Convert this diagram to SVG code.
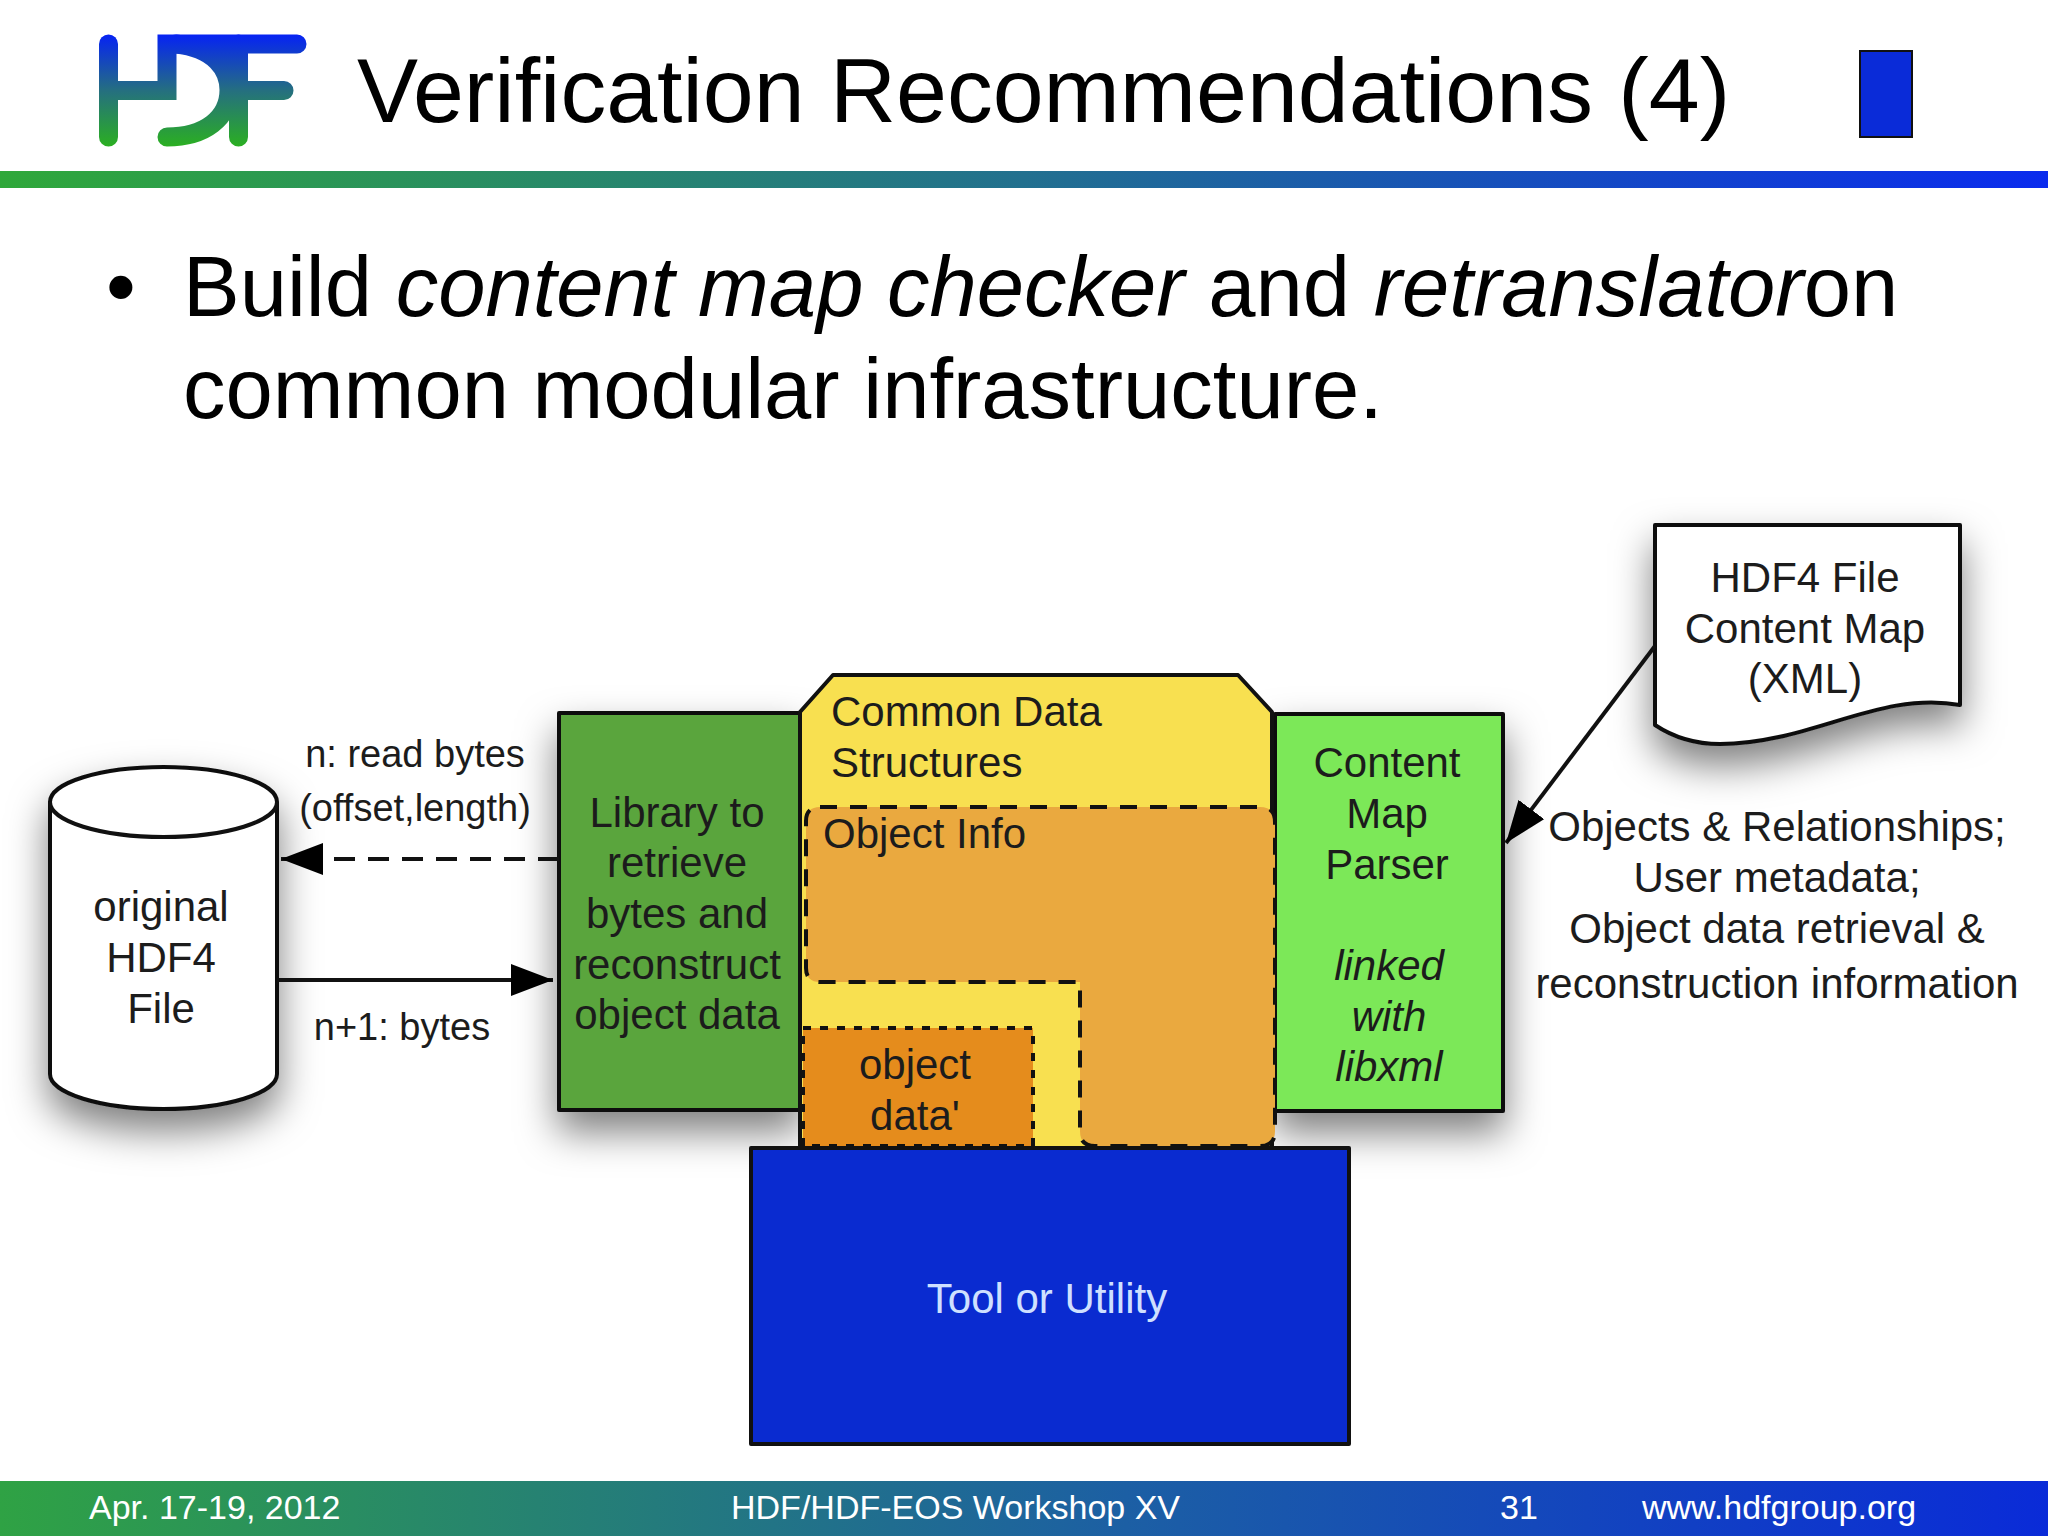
<svg xmlns="http://www.w3.org/2000/svg" width="2048" height="1536" viewBox="0 0 2048 1536">
<defs>
<style>
text{font-family:"Liberation Sans",Arial,sans-serif;fill:#1c1c1c}
.m{text-anchor:middle;font-size:42px}
.s{text-anchor:middle;font-size:38px}
.l{font-size:42px}
.i{font-style:italic}
.o{stroke:#111;stroke-width:4;stroke-linejoin:round}
.d{fill:none;stroke:#111;stroke-width:4;stroke-dasharray:17 13}
.t{font-size:91.500px;fill:#000}
.b{font-size:85px;fill:#000}
.f{font-size:34px;fill:#fff}
</style>
<linearGradient id="bar" x1="0" x2="1" y1="0" y2="0"><stop offset="0" stop-color="#2fa83a"/><stop offset="0.5" stop-color="#22708f"/><stop offset="1" stop-color="#0a2bee"/></linearGradient>
<linearGradient id="foot" x1="0" x2="1" y1="0" y2="0"><stop offset="0" stop-color="#2fa244"/><stop offset="0.55" stop-color="#1c5fa4"/><stop offset="1" stop-color="#0a2bd8"/></linearGradient>
<linearGradient id="logo" gradientUnits="userSpaceOnUse" x1="0" x2="0" y1="34" y2="147"><stop offset="0" stop-color="#0622f5"/><stop offset="0.5" stop-color="#256f80"/><stop offset="1" stop-color="#2bb020"/></linearGradient>
<filter id="sh" x="-30%" y="-30%" width="160%" height="160%"><feDropShadow dx="0" dy="20" stdDeviation="19" flood-color="#000" flood-opacity="0.5"/></filter>
<marker id="ah" markerUnits="userSpaceOnUse" markerWidth="44" markerHeight="34" refX="42" refY="16" orient="auto"><path d="M0 0L42 16L0 32z" fill="#000"/></marker>
</defs>
<rect width="2048" height="1536" fill="#fff"/>
<g id="header">
<g fill="none" stroke="url(#logo)" stroke-width="19" stroke-linecap="round">
<path d="M108.500 44V137"/>
<path d="M108.500 90.500H167V44H297"/>
<path d="M238.500 44V137M238.500 90.500H284"/>
<path d="M167 137C205 137 229 118 229 90C229 70 215 48 176 44"/>
</g>
<path d="M176 52C205 56 229 70 229 92H238V50Z" fill="url(#logo)"/>
<text class="t" x="357" y="122">Verification Recommendations (4)</text>
<rect x="1860" y="51" width="52" height="86" fill="#0a2bd8" stroke="#111" stroke-width="2"/>
<rect y="171" width="2048" height="17" fill="url(#bar)"/>
</g>
<g id="body">
<text class="b" x="106" y="316">•</text>
<text class="b" x="183" y="316">Build <tspan class="i">content map checker</tspan> and <tspan class="i">retranslator</tspan>on</text>
<text class="b" x="183" y="418">common modular infrastructure.</text>
</g>
<g id="file">
<path filter="url(#sh)" class="o" fill="#fff" d="M50 802A113.500 35 0 0 1 277 802V1074A113.500 35 0 0 1 50 1074Z"/>
<path class="o" fill="none" d="M50 802A113.500 35 0 0 0 277 802"/>
<text class="m" x="161" y="921">original</text><text class="m" x="161" y="972">HDF4</text><text class="m" x="161" y="1023">File</text>
</g>
<g id="library">
<rect filter="url(#sh)" class="o" x="559" y="713" width="241" height="397" fill="#5aa53e"/>
<text class="m" x="677" y="827">Library to</text><text class="m" x="677" y="877">retrieve</text><text class="m" x="677" y="928">bytes and</text><text class="m" x="677" y="979">reconstruct</text><text class="m" x="677" y="1029">object data</text>
</g>
<g id="parser">
<rect filter="url(#sh)" class="o" x="1275" y="714" width="228" height="397" fill="#7ce858"/>
<text class="m" x="1387" y="777">Content</text><text class="m" x="1387" y="828">Map</text><text class="m" x="1387" y="879">Parser</text>
<text class="m i" x="1389" y="980">linked</text><text class="m i" x="1389" y="1031">with</text><text class="m i" x="1389" y="1081">libxml</text>
</g>
<g id="common">
<path class="o" fill="#f8e050" d="M800 712L833 675H1238L1272 712V1148H800Z"/>
<text class="l" x="831" y="726">Common Data</text><text class="l" x="831" y="777">Structures</text>
</g>
<g id="object-info">
<path fill="#eaa93f" d="M820 807H1260Q1275 807 1275 822V1131Q1275 1146 1260 1146H1095Q1080 1146 1080 1131V982H820Q806 982 806 968V821Q806 807 820 807Z"/>
<path class="d" d="M820 807H1260Q1275 807 1275 822V1131Q1275 1146 1260 1146H1095Q1080 1146 1080 1131V982H820Q806 982 806 968V821Q806 807 820 807Z"/>
<text class="l" x="823" y="848">Object Info</text>
</g>
<g id="object-data">
<rect x="803" y="1028" width="230" height="118" fill="#e58c1c"/>
<rect x="803" y="1028" width="230" height="118" fill="none" stroke="#111" stroke-width="4" stroke-dasharray="8 9"/>
<text class="m" x="915" y="1079">object</text><text class="m" x="915" y="1130">data'</text>
</g>
<g id="tool">
<rect class="o" x="751" y="1148" width="598" height="296" fill="#0a2bd0"/>
<text class="m" x="1047" y="1313" style="fill:#cfe0ff">Tool or Utility</text>
</g>
<g id="content-map">
<path filter="url(#sh)" class="o" fill="#fff" d="M1655 525H1960V705C1880 690 1810 744 1720 744C1690 744 1670 735 1655 725Z"/>
<text class="m" x="1805" y="592">HDF4 File</text><text class="m" x="1805" y="643">Content Map</text><text class="m" x="1805" y="693">(XML)</text>
</g>
<g id="connectors" fill="none" stroke="#111" stroke-width="4">
<path d="M559 859H281" stroke-dasharray="21 13" marker-end="url(#ah)"/>
<path d="M277 980H553" marker-end="url(#ah)"/>
<path d="M1655 646L1506 843" marker-end="url(#ah)"/>
</g>
<g id="labels">
<text class="s" x="415" y="767">n: read bytes</text>
<text class="s" x="415" y="821">(offset,length)</text>
<text class="s" x="402" y="1040">n+1: bytes</text>
<text class="m" x="1777" y="841">Objects &amp; Relationships;</text>
<text class="m" x="1777" y="892">User metadata;</text>
<text class="m" x="1777" y="943">Object data retrieval &amp;</text>
<text class="m" x="1777" y="998">reconstruction information</text>
</g>
<g id="footer">
<rect y="1481" width="2048" height="55" fill="url(#foot)"/>
<text class="f" x="89" y="1519">Apr. 17-19, 2012</text>
<text class="f" x="731" y="1519">HDF/HDF-EOS Workshop XV</text>
<text class="f" x="1500" y="1519">31</text>
<text class="f" x="1642" y="1519">www.hdfgroup.org</text>
</g>
</svg>
